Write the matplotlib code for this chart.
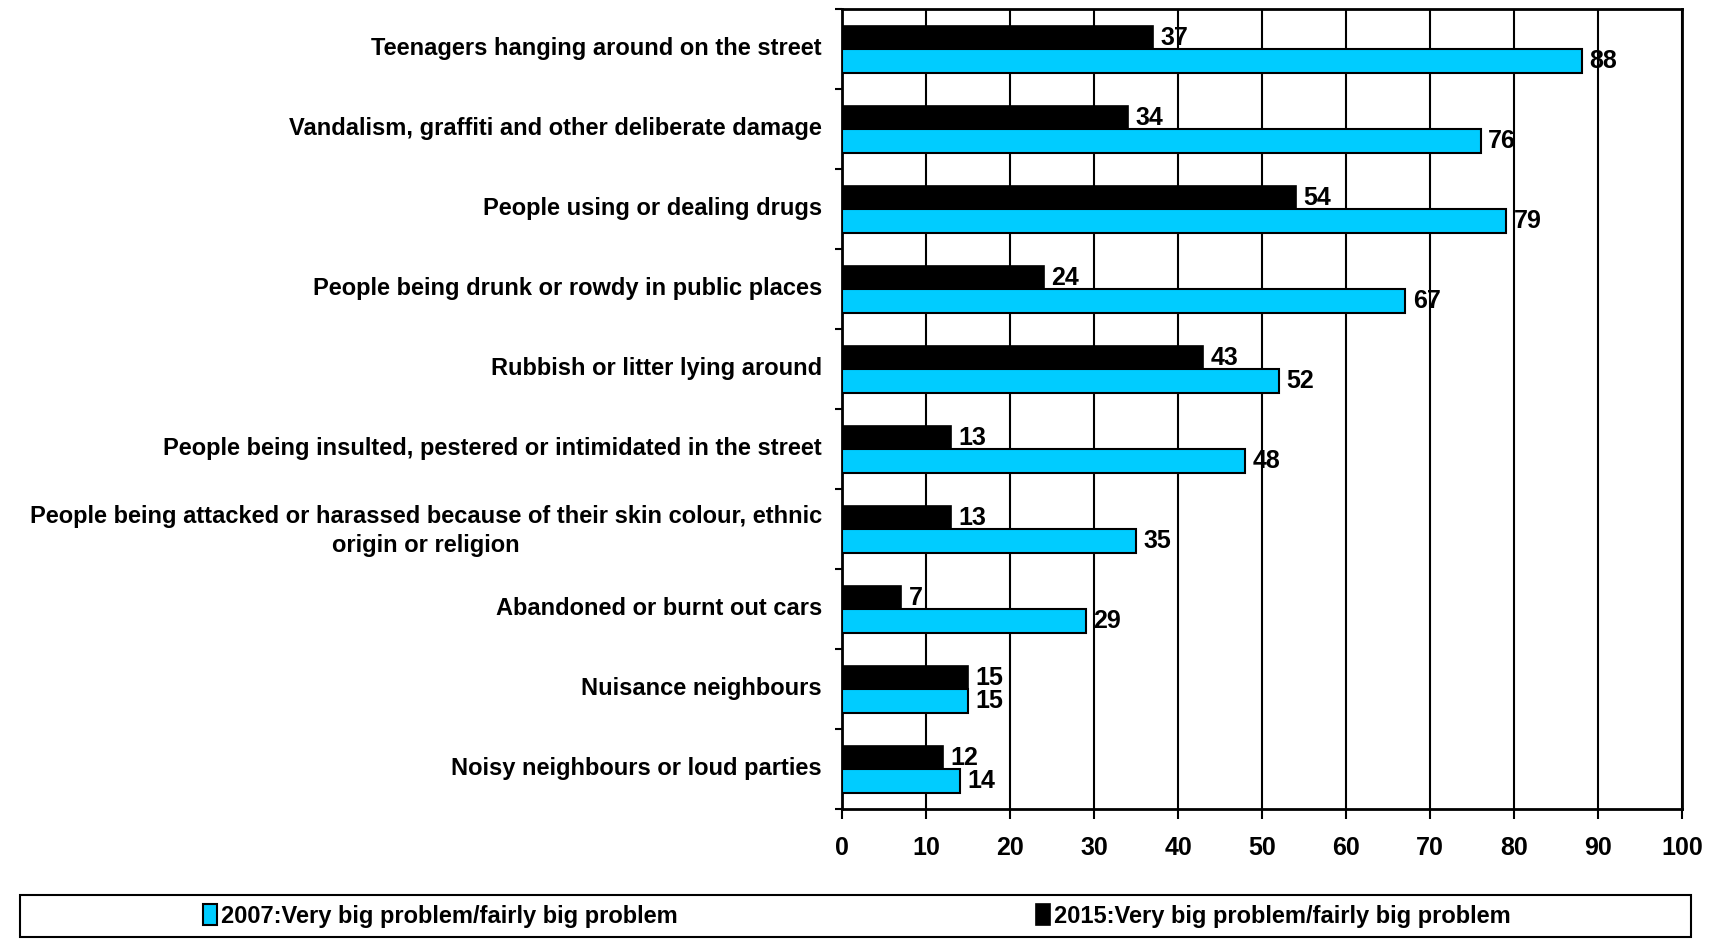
import matplotlib.pyplot as plt
import numpy as np
from matplotlib.patches import Rectangle
from matplotlib.transforms import ScaledTranslation

plt.rcParams['font.family'] = ['Liberation Sans', 'DejaVu Sans']
plt.rcParams['font.weight'] = 'bold'

categories = [
    "Teenagers hanging around on the street",
    "Vandalism, graffiti and other deliberate damage",
    "People using or dealing drugs",
    "People being drunk or rowdy in public places",
    "Rubbish or litter lying around",
    "People being insulted, pestered or intimidated in the street",
    "People being attacked or harassed because of their skin colour, ethnic\norigin or religion",
    "Abandoned or burnt out cars",
    "Nuisance neighbours",
    "Noisy neighbours or loud parties",
]
vals_2007 = [88, 76, 79, 67, 52, 48, 35, 29, 15, 14]
vals_2015 = [37, 34, 54, 24, 43, 13, 13, 7, 15, 12]
label_2007 = "2007:Very big problem/fairly big problem"
label_2015 = "2015:Very big problem/fairly big problem"
xticks = list(range(0, 101, 10))

cyan = "#00CCFF"
fs = 17      # category labels and legend
fs_num = 18  # value labels and x ticks

fig = plt.figure(figsize=(17.22, 9.40), dpi=100)
ax = fig.add_axes([0.489, 0.139, 0.488, 0.851])

y = np.arange(len(categories))
h = 0.29
b15 = ax.barh(y - h / 2, vals_2015, height=h, color="black", edgecolor="black",
              linewidth=1.2, label=label_2015, zorder=3)
b07 = ax.barh(y + h / 2, vals_2007, height=h, color=cyan, edgecolor="black",
              linewidth=1.5, label=label_2007, zorder=3)

for yy, v in zip(y - h / 2, vals_2015):
    ax.text(v + 0.9, yy, str(v), va="center", ha="left", fontsize=fs_num,
            fontweight="bold", zorder=4)
for yy, v in zip(y + h / 2, vals_2007):
    ax.text(v + 0.9, yy, str(v), va="center", ha="left", fontsize=fs_num,
            fontweight="bold", zorder=4)

ax.set_xlim(0, 100)
ax.set_ylim(len(categories) - 0.5, -0.5)
ax.set_xticks(xticks)
ax.set_xticklabels([str(t) for t in xticks], fontsize=fs_num, fontweight="bold")
ax.tick_params(axis="x", length=7, width=1.5, pad=12, direction="out")
ax.set_yticks(y)
ax.set_yticklabels(categories, fontsize=fs, fontweight="bold",
                   multialignment="center", linespacing=1.3)
ax.tick_params(axis="y", which="major", length=0, pad=14.5)
ax.set_yticks(np.arange(len(categories) + 1) - 0.5, minor=True)
ax.tick_params(axis="y", which="minor", length=5, width=1.5, direction="out")

# nudge category labels up a little
shift = ScaledTranslation(0, 3.5 / 100, fig.dpi_scale_trans)
for lab in ax.get_yticklabels():
    lab.set_transform(lab.get_transform() + shift)

ax.grid(axis="x", color="black", linewidth=1.5, zorder=0)
for s in ax.spines.values():
    s.set_linewidth(2)

# legend box along the bottom
fig.patches.append(Rectangle((20 / 1722, 3 / 940), 1671 / 1722, 42 / 940,
                             transform=fig.transFigure, fill=False,
                             edgecolor="black", linewidth=1.5))
fig.legend(handles=[b07, b15], labels=[label_2007, label_2015], loc="center",
           bbox_to_anchor=(0.4975, 24 / 940), ncol=2, frameon=False,
           prop={"size": fs, "weight": "bold"}, handlelength=0.6,
           handleheight=1.0, handletextpad=0.15, columnspacing=15.2)

fig.savefig("out.png", dpi=100)
